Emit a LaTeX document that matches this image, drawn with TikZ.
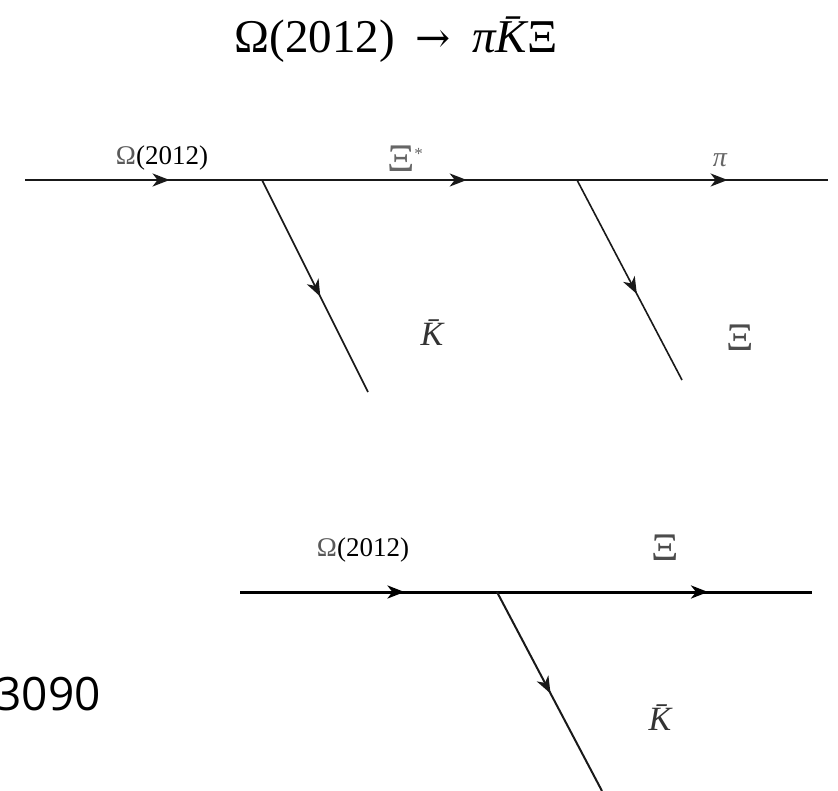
\documentclass[tikz,border=0pt]{standalone}
\usepackage{fontspec}
\setmainfont{Liberation Serif}
\newfontfamily\numfont{Open Sans}
\newfontfamily\arrfont{DejaVu Serif}
\usetikzlibrary{arrows.meta,decorations.markings}
\newcommand{\BigXi}{\scalebox{1.25}[1.15]{Ξ}}
\tikzset{
  lbl/.style={inner sep=0pt, font=\fontsize{27}{30}\selectfont},
  sym/.style={inner sep=0pt, font=\fontsize{34}{38}\selectfont},
  ptl/.style={draw=black!90, line width=2.1pt},
  ptlb/.style={draw=black, line width=3pt},
  dgl/.style={draw=black!90, line width=1.6pt},
  arrat/.style={postaction={decorate, decoration={markings,
     mark=at position #1 with {\arrow{Stealth[length=17pt,width=13pt,inset=5pt]}}}}},
}
\begin{document}
\begin{tikzpicture}[x=1pt,y=-1pt]
\useasboundingbox (0,0) rectangle (838,791);
% title
\node[inner sep=0pt, font=\fontsize{47}{52}\selectfont] (title) at (396,40) {Ω(2012)\hspace{0.45em}{\arrfont\fontsize{42}{42}\selectfont →}\hspace{0.45em}{\itshape π\={K}}Ξ};
% top diagram
\coordinate (tin) at (25,180);
\coordinate (tv1) at (262,180);
\coordinate (tv2) at (577,180);
\coordinate (tout) at (828,180);
\coordinate (tk) at (368,392);
\coordinate (tx) at (682,380);
\draw[ptl, arrat=0.61] (tin) -- (tv1);
\draw[ptl, arrat=0.65] (tv1) -- (tv2);
\draw[ptl, arrat=0.60] (tv2) -- (tout);
\draw[dgl, arrat=0.55] (tv1) -- (tk);
\draw[dgl, arrat=0.57] (tv2) -- (tx);
\node[lbl] (lom1) at (162,158) {{\color{black!65}Ω}(2012)};
\node[sym, text=black!60] (lxs) at (405,159) {\BigXi\raisebox{0.35em}{\fontsize{17}{17}\selectfont *}};
\node[sym, text=black!60, font=\fontsize{28}{30}\selectfont] (lpi) at (720,160) {\itshape π};
\node[sym, text=black!80] (lk1) at (432,333) {\itshape \={K}};
\node[sym, text=black!70] (lx1) at (740,338) {\BigXi};
% bottom diagram
\coordinate (bin) at (240,592);
\coordinate (bv) at (497,592);
\coordinate (bout) at (812,592);
\coordinate (bk) at (602,791);
\draw[ptlb, arrat=0.64] (bin) -- (bv);
\draw[ptlb, arrat=0.67] (bv) -- (bout);
\draw[dgl, line width=2pt, arrat=0.51] (bv) -- (bk);
\node[lbl] (lom2) at (363,550) {{\color{black!65}Ω}(2012)};
\node[sym, text=black!70] (lx2) at (665,548) {\BigXi};
\node[sym, text=black!80] (lk2) at (660,718) {\itshape \={K}};
% side number
\node[inner sep=0pt, anchor=east, font=\numfont\fontsize{46}{50}\selectfont] (num) at (101,694) {3090};
\end{tikzpicture}
\end{document}
